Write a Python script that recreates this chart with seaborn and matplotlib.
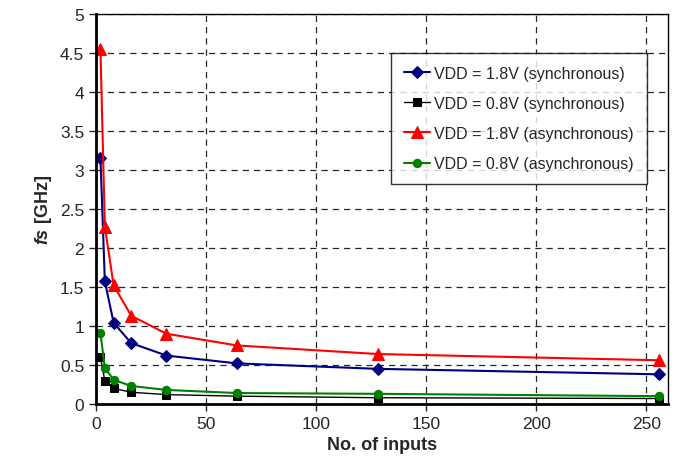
import pandas as pd
import numpy as np
import matplotlib.pyplot as plt
import seaborn as sns

inputs = [2, 4, 8, 16, 32, 64, 128, 256]
sync_18 = [3.15, 1.57, 1.04, 0.78, 0.62, 0.52, 0.45, 0.38]
sync_08 = [0.60, 0.30, 0.20, 0.15, 0.12, 0.10, 0.08, 0.07]
async_18 = [4.55, 2.27, 1.52, 1.13, 0.90, 0.75, 0.64, 0.56]
async_08 = [0.91, 0.46, 0.31, 0.23, 0.18, 0.14, 0.13, 0.10]

labels = ['VDD = 1.8V (synchronous)', 'VDD = 0.8V (synchronous)',
          'VDD = 1.8V (asynchronous)', 'VDD = 0.8V (asynchronous)']
series = [sync_18, sync_08, async_18, async_08]
colors = ['#000080', '#000000', '#ff0000', '#008000']
markers = ['D', 's', '^', 'o']
sizes = [6, 6, 9, 6]
widths = [1.5, 1.0, 1.5, 1.5]

df = pd.concat([pd.DataFrame({'inputs': inputs, 'fs': s, 'series': l})
                for s, l in zip(series, labels)])

sns.set_style('white')
plt.rcParams['font.family'] = ['Liberation Sans', 'DejaVu Sans']
plt.rcParams['mathtext.fontset'] = 'custom'
plt.rcParams['mathtext.it'] = 'Liberation Sans:italic:bold'

fig, ax = plt.subplots(figsize=(6.91, 4.77), dpi=100)
for l, c, m, ms, lw in zip(labels, colors, markers, sizes, widths):
    sns.lineplot(data=df[df['series'] == l], x='inputs', y='fs', ax=ax,
                 color=c, marker=m, markersize=ms, linewidth=lw,
                 markeredgecolor=c, label=l)

ax.set_xlim(0, 260)
ax.set_ylim(0, 5)
ax.set_xticks(range(0, 251, 50))
ax.set_yticks(np.arange(0, 5.01, 0.5))
ax.set_yticklabels(['0', '0.5', '1', '1.5', '2', '2.5', '3', '3.5', '4', '4.5', '5'])
ax.grid(True, color='black', linestyle=(0, (5, 4)), linewidth=0.9, alpha=0.85)
ax.tick_params(axis='both', labelsize=12.5, direction='out', length=5, width=1,
               bottom=True, left=True)
for sp in ax.spines.values():
    sp.set_color('black')
    sp.set_linewidth(1.0)
ax.spines['left'].set_linewidth(2)
ax.spines['bottom'].set_linewidth(2)

ax.set_xlabel('No. of inputs', fontsize=13, fontweight='bold')
ax.set_ylabel(r'$\mathit{fs}$ [GHz]', fontsize=13, fontweight='bold')

leg = ax.legend(loc='upper left', bbox_to_anchor=(0.516, 0.9), fontsize=11.5,
                frameon=True, fancybox=False, edgecolor='black',
                handlelength=1.6, handletextpad=0.3, labelspacing=0.95,
                borderpad=0.8, borderaxespad=0)
leg.get_frame().set_linewidth(1.0)

plt.subplots_adjust(left=0.139, right=0.967, top=0.969, bottom=0.151)
plt.savefig('out.png', dpi=100)
